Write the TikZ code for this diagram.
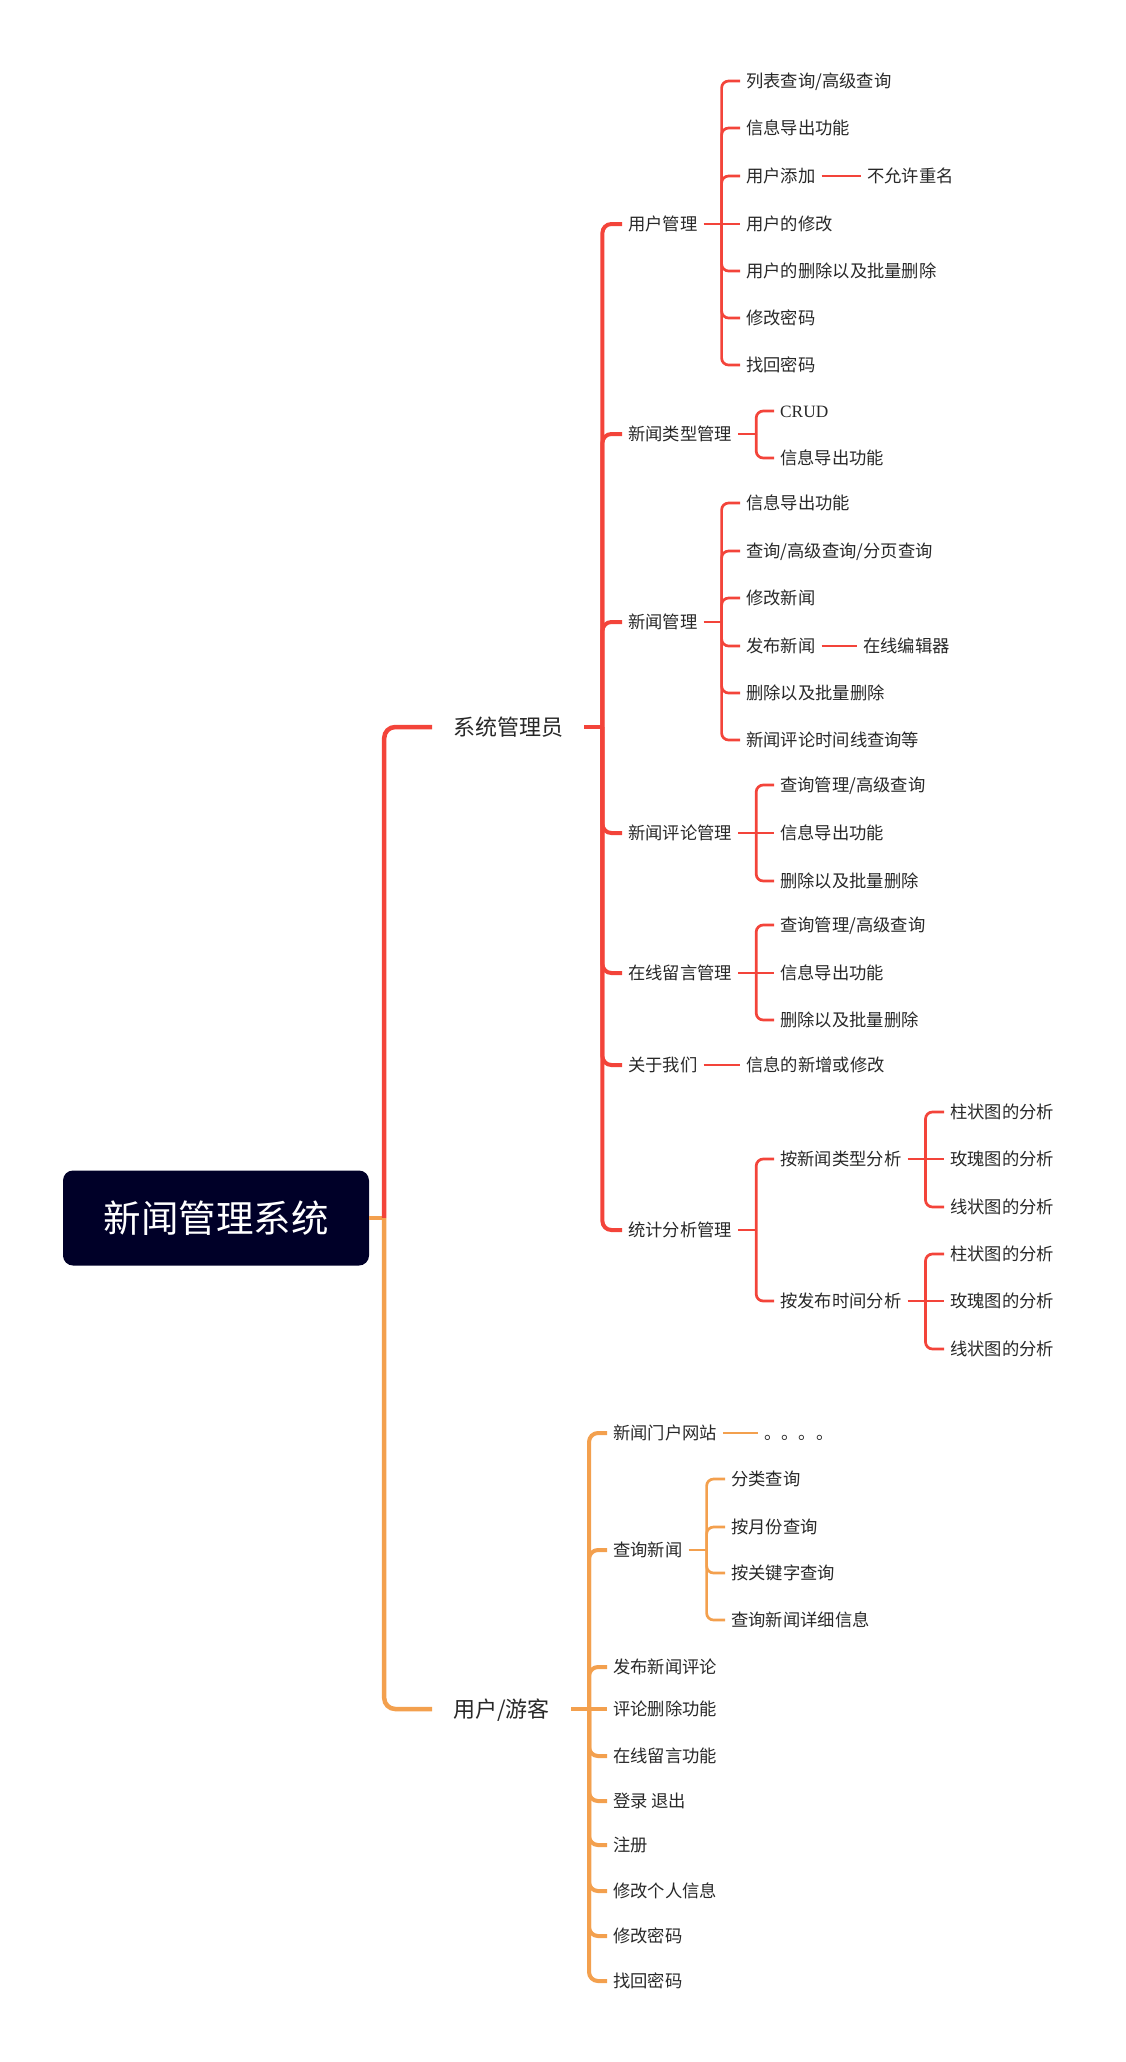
\documentclass[tikz,border=0pt]{standalone}
\usepackage{fontspec}
\setmainfont{Noto Sans CJK SC}
\newfontfamily\latinserif{Liberation Serif}

\definecolor{mapred}{RGB}{243,68,58}
\definecolor{maporange}{RGB}{243,160,78}
\definecolor{rootnavy}{RGB}{0,0,40}
\definecolor{textgray}{RGB}{40,40,40}

\tikzset{
  topic/.style={anchor=west, inner xsep=6pt, inner ysep=0pt, text=textgray,
    font=\fontsize{17.3}{20}\selectfont, text height=15.2pt, text depth=2.1pt},
  maintopic/.style={topic, inner xsep=21pt, font=\fontsize{22}{26}\selectfont,
    text height=19.4pt, text depth=2.6pt},
  centraltopic/.style={fill=rootnavy, text=white, rounded corners=10pt,
    minimum width=306pt, minimum height=95pt, font=\fontsize{37.5}{44}\selectfont},
  thickline/.style={line width=4.5pt, rounded corners=11pt},
  midline/.style={line width=4pt, rounded corners=9pt},
  thinline/.style={line width=2.7pt, rounded corners=7pt}
}

\begin{document}
\begin{tikzpicture}[x=1pt, y=-1pt]
  \useasboundingbox (0,0) rectangle (1125,2062);

  % Central topic
  \node[centraltopic] (root) at (216,1218) {新闻管理系统};

  % Main topics
  \node[maintopic] (admin) at (432,727) {系统管理员};
  \node[maintopic] (guest) at (432,1709) {用户/游客};

  % Administrator subtopics
  \node[topic] (usermgr) at (622,224) {用户管理};
  \node[topic] (typemgr) at (622,434) {新闻类型管理};
  \node[topic] (newsmgr) at (622,622) {新闻管理};
  \node[topic] (cmtmgr) at (622,833) {新闻评论管理};
  \node[topic] (msgmgr) at (622,973) {在线留言管理};
  \node[topic] (aboutus) at (622,1065) {关于我们};
  \node[topic] (statmgr) at (622,1230) {统计分析管理};

  % User management
  \node[topic] (userlist) at (740,81) {列表查询/高级查询};
  \node[topic] (userexport) at (740,128) {信息导出功能};
  \node[topic] (useradd) at (740,176) {用户添加};
  \node[topic] (useredit) at (740,224) {用户的修改};
  \node[topic] (userdel) at (740,271) {用户的删除以及批量删除};
  \node[topic] (userpwd) at (740,318) {修改密码};
  \node[topic] (userfind) at (740,365) {找回密码};
  \node[topic] (uniquename) at (861,176) {不允许重名};

  % News type management
  \node[topic] (typecrud) at (774,411) {\latinserif CRUD};
  \node[topic] (typeexport) at (774,458) {信息导出功能};

  % News management
  \node[topic] (newsexport) at (740,503) {信息导出功能};
  \node[topic] (newsquery) at (740,551) {查询/高级查询/分页查询};
  \node[topic] (newsedit) at (740,598) {修改新闻};
  \node[topic] (newspub) at (740,646) {发布新闻};
  \node[topic] (newsdel) at (740,693) {删除以及批量删除};
  \node[topic] (newsline) at (740,740) {新闻评论时间线查询等};
  \node[topic] (editor) at (857,646) {在线编辑器};

  % Comment management
  \node[topic] (cmtquery) at (774,785) {查询管理/高级查询};
  \node[topic] (cmtexport) at (774,833) {信息导出功能};
  \node[topic] (cmtdel) at (774,881) {删除以及批量删除};

  % Message management
  \node[topic] (msgquery) at (774,925) {查询管理/高级查询};
  \node[topic] (msgexport) at (774,973) {信息导出功能};
  \node[topic] (msgdel) at (774,1020) {删除以及批量删除};

  % About us
  \node[topic] (aboutedit) at (740,1065) {信息的新增或修改};

  % Statistics
  \node[topic] (bytype) at (774,1159) {按新闻类型分析};
  \node[topic] (bytime) at (774,1301) {按发布时间分析};
  \node[topic] (typebar) at (944,1112) {柱状图的分析};
  \node[topic] (typerose) at (944,1159) {玫瑰图的分析};
  \node[topic] (typeline) at (944,1207) {线状图的分析};
  \node[topic] (timebar) at (944,1254) {柱状图的分析};
  \node[topic] (timerose) at (944,1301) {玫瑰图的分析};
  \node[topic] (timeline) at (944,1349) {线状图的分析};

  % User / guest subtopics
  \node[topic] (portal) at (607,1433) {新闻门户网站};
  \node[topic] (portaldots) at (758,1433) {。。。。};
  \node[topic] (gquery) at (607,1550) {查询新闻};
  \node[topic] (gcomment) at (607,1667) {发布新闻评论};
  \node[topic] (gcmtdel) at (607,1709) {评论删除功能};
  \node[topic] (gmessage) at (607,1756) {在线留言功能};
  \node[topic] (glogin) at (607,1801) {登录 退出};
  \node[topic] (gregister) at (607,1845) {注册};
  \node[topic] (gprofile) at (607,1891) {修改个人信息};
  \node[topic] (gpwd) at (607,1936) {修改密码};
  \node[topic] (gfind) at (607,1981) {找回密码};
  \node[topic] (qcategory) at (725,1479) {分类查询};
  \node[topic] (qmonth) at (725,1527) {按月份查询};
  \node[topic] (qkeyword) at (725,1573) {按关键字查询};
  \node[topic] (qdetail) at (725,1620) {查询新闻详细信息};

  % Central topic to main topics
  \draw[thickline, maporange] (root.east) -- ++(15,0) coordinate (rootj);
  \draw[thickline, mapred] (rootj) |- (admin.west);
  \draw[thickline, maporange] (rootj) |- (guest.west);

  % Administrator branch (red)
  \draw[midline, mapred] (admin.east) -- ++(18,0) coordinate (adminj);
  \foreach \c in {usermgr,typemgr,newsmgr,cmtmgr,msgmgr,aboutus,statmgr}
    \draw[midline, mapred] (adminj) |- (\c.west);

  \draw[thinline, mapred] (usermgr.east) -- ++(18,0) coordinate (usermgrj) -- (useredit.west);
  \foreach \c in {userlist,userexport,useradd,userdel,userpwd,userfind}
    \draw[thinline, mapred] (usermgrj) |- (\c.west);
  \draw[thinline, mapred] (useradd.east) -- (uniquename.west);

  \draw[thinline, mapred] (typemgr.east) -- ++(18,0) coordinate (typemgrj);
  \foreach \c in {typecrud,typeexport}
    \draw[thinline, mapred] (typemgrj) |- (\c.west);

  \draw[thinline, mapred] (newsmgr.east) -- ++(18,0) coordinate (newsmgrj);
  \foreach \c in {newsexport,newsquery,newsedit,newspub,newsdel,newsline}
    \draw[thinline, mapred] (newsmgrj) |- (\c.west);
  \draw[thinline, mapred] (newspub.east) -- (editor.west);

  \draw[thinline, mapred] (cmtmgr.east) -- ++(18,0) coordinate (cmtmgrj) -- (cmtexport.west);
  \foreach \c in {cmtquery,cmtdel}
    \draw[thinline, mapred] (cmtmgrj) |- (\c.west);

  \draw[thinline, mapred] (msgmgr.east) -- ++(18,0) coordinate (msgmgrj) -- (msgexport.west);
  \foreach \c in {msgquery,msgdel}
    \draw[thinline, mapred] (msgmgrj) |- (\c.west);

  \draw[thinline, mapred] (aboutus.east) -- (aboutedit.west);

  \draw[thinline, mapred] (statmgr.east) -- ++(18,0) coordinate (statmgrj);
  \foreach \c in {bytype,bytime}
    \draw[thinline, mapred] (statmgrj) |- (\c.west);

  \draw[thinline, mapred] (bytype.east) -- ++(18,0) coordinate (bytypej) -- (typerose.west);
  \foreach \c in {typebar,typeline}
    \draw[thinline, mapred] (bytypej) |- (\c.west);

  \draw[thinline, mapred] (bytime.east) -- ++(18,0) coordinate (bytimej) -- (timerose.west);
  \foreach \c in {timebar,timeline}
    \draw[thinline, mapred] (bytimej) |- (\c.west);

  % User / guest branch (orange)
  \draw[midline, maporange] (guest.east) -- ++(18,0) coordinate (guestj) -- (gcmtdel.west);
  \foreach \c in {portal,gquery,gcomment,gmessage,glogin,gregister,gprofile,gpwd,gfind}
    \draw[midline, maporange] (guestj) |- (\c.west);
  \draw[thinline, maporange] (portal.east) -- (portaldots.west);

  \draw[thinline, maporange] (gquery.east) -- ++(18,0) coordinate (gqueryj);
  \foreach \c in {qcategory,qmonth,qkeyword,qdetail}
    \draw[thinline, maporange] (gqueryj) |- (\c.west);

\end{tikzpicture}
\end{document}
